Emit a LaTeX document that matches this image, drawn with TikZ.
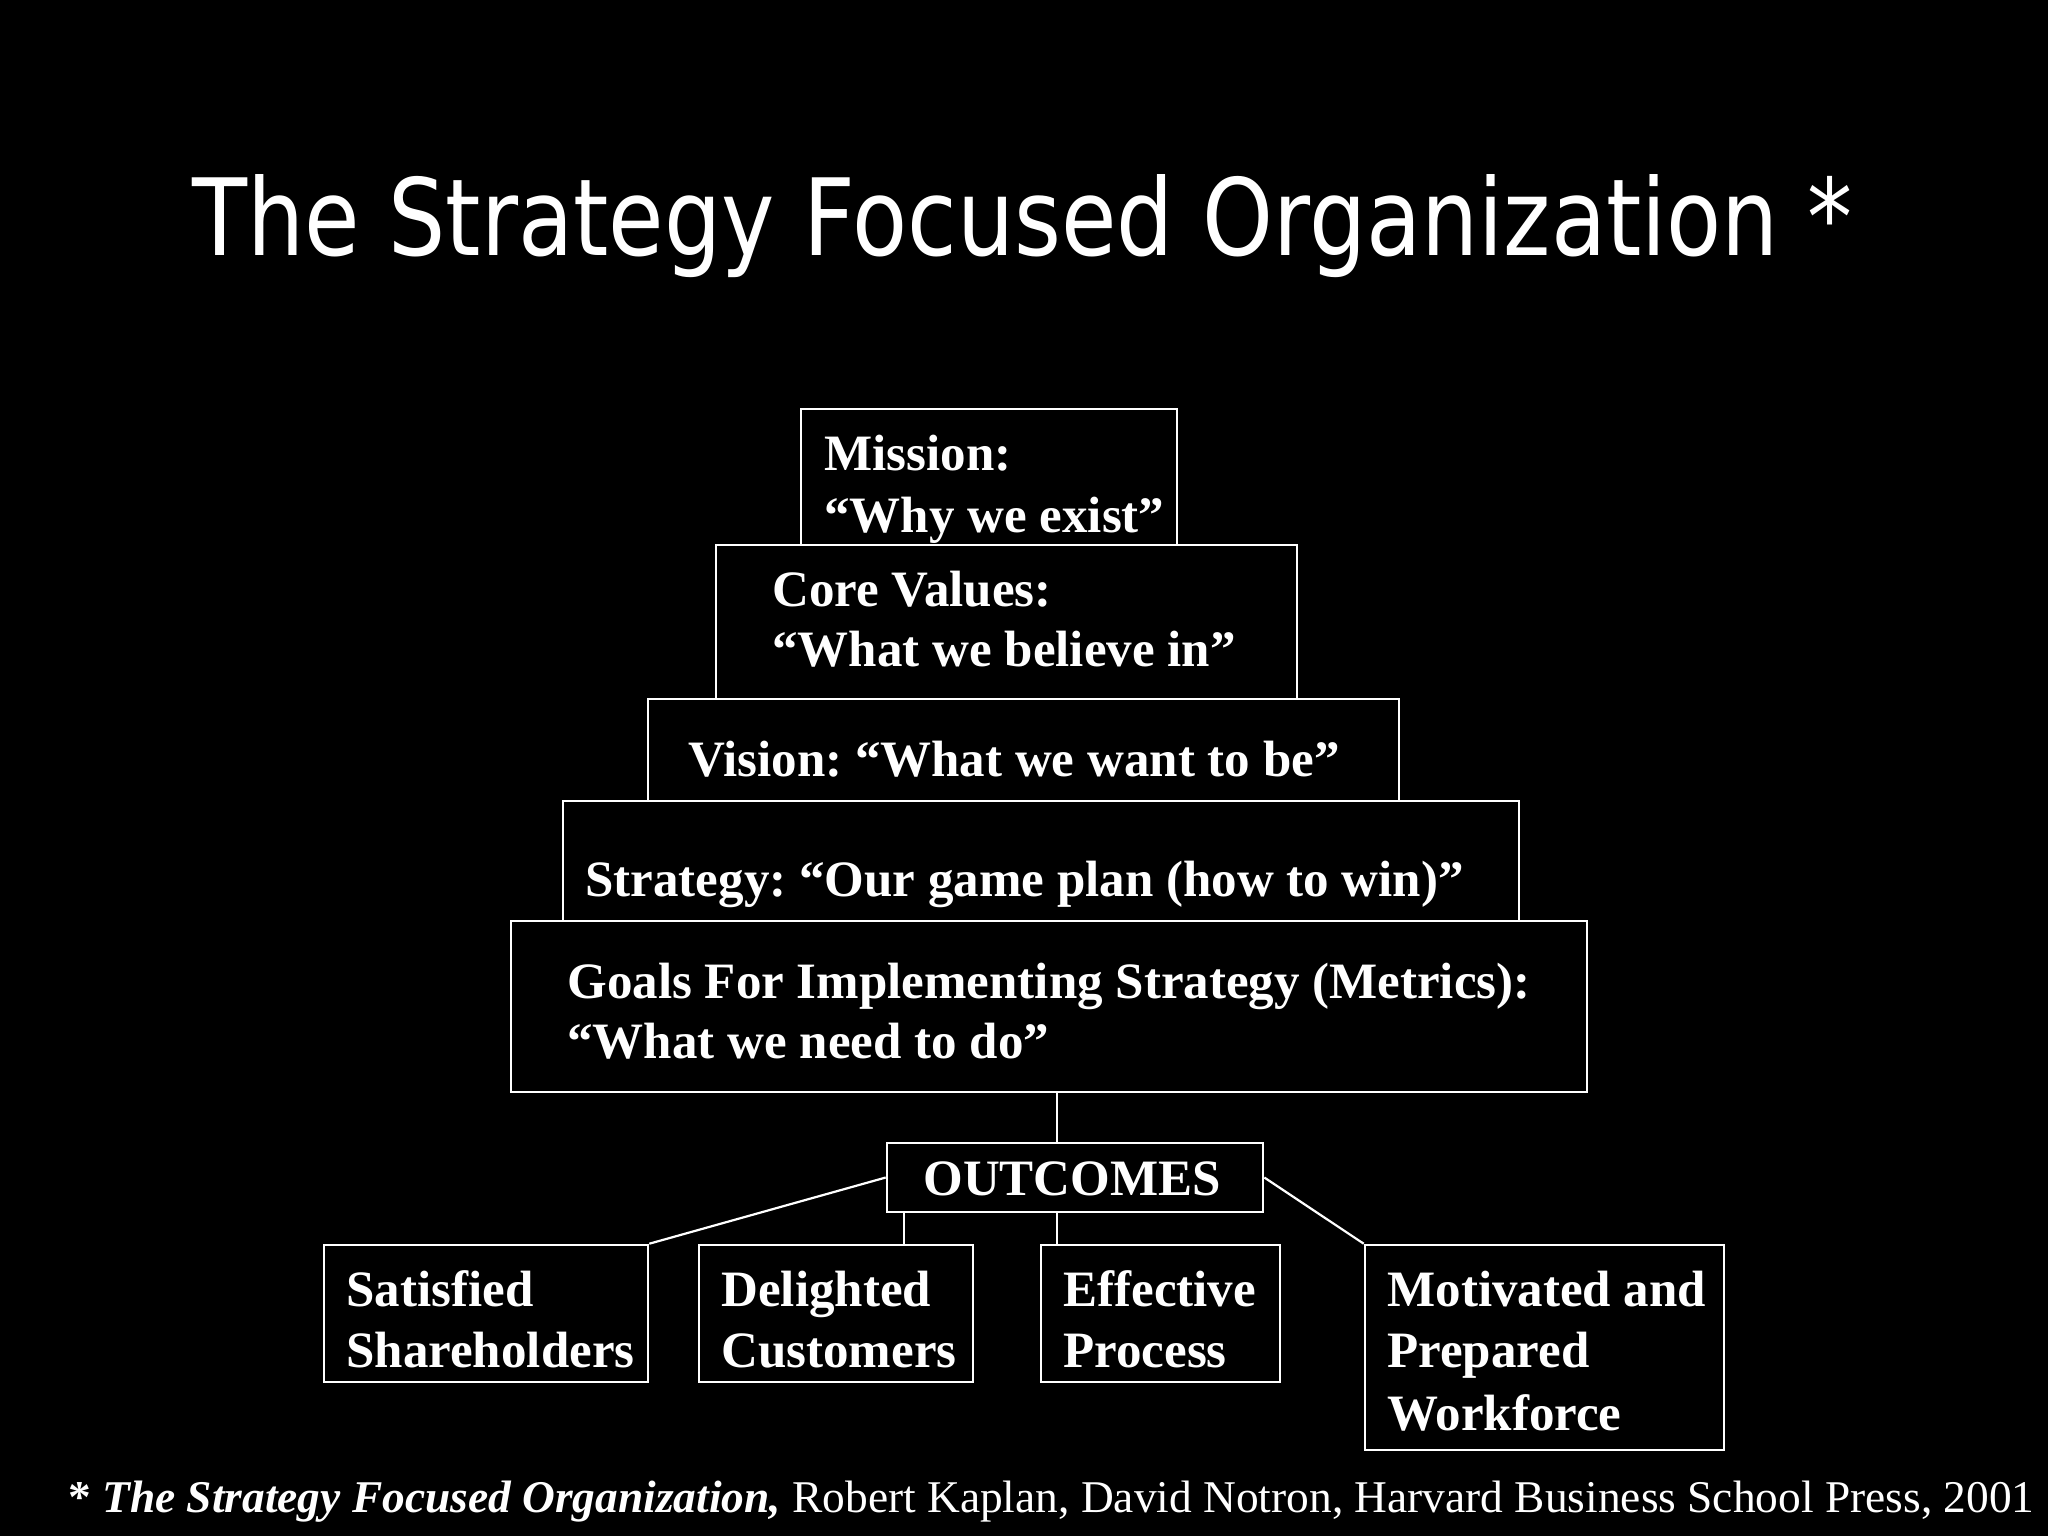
\documentclass[tikz,border=0pt]{standalone}
\usepackage{fontspec}
\setmainfont{Liberation Serif}
\newfontfamily\titlefont{DejaVu Sans}
\usetikzlibrary{fit}
\frenchspacing
\begin{document}
\begin{tikzpicture}[x=0.5pt,y=-0.5pt,
  box/.style={draw=white,line width=1.3pt,inner sep=0pt},
  lbl/.style={text=white,inner sep=0pt,anchor=base west,font=\bfseries\fontsize{25.5}{30}\selectfont},
  wire/.style={draw=white,line width=1.1pt}]
\fill[black] (0,0) rectangle (2048,1536);
\useasboundingbox (0,0) rectangle (2048,1536);
% title
\node[text=white,inner sep=0pt,anchor=base west] (title) at (192,255)
  {\resizebox{830pt}{40.5pt}{\titlefont The Strategy Focused Organization *}};
% pyramid boxes
\node[box,fit={(801,409) (1177,545)}] (mission) {};
\node[box,fit={(716,545) (1297,699)}] (core) {};
\node[box,fit={(648,699) (1399,801)}] (vision) {};
\node[box,fit={(563,801) (1519,921)}] (strat) {};
\node[box,fit={(511,921) (1587,1092)}] (goals) {};
% pyramid texts
\node[lbl] (t1) at (824,470) {Mission:};
\node[lbl] (t2) at (824,532) {“Why we exist”};
\node[lbl] (t3) at (772,606) {Core Values:};
\node[lbl] (t4) at (772,666) {“What we believe in”};
\node[lbl] (t5) at (688,776) {Vision: “What we want to be”};
\node[lbl] (t6) at (585,896) {Strategy: “Our game plan (how to win)”};
\node[lbl] (t7) at (567,998) {Goals For Implementing Strategy (Metrics):};
\node[lbl] (t8) at (567,1058) {“What we need to do”};
% outcomes
\node[box,fit={(887,1143) (1263,1212)}] (outc) {};
\node[lbl] (t9) at (923,1195) {OUTCOMES};
\node[box,fit={(324,1245) (648,1382)}] (sat) {};
\node[box,fit={(699,1245) (973,1382)}] (del) {};
\node[box,fit={(1041,1245) (1280,1382)}] (eff) {};
\node[box,fit={(1365,1245) (1724,1450)}] (mot) {};
\node[lbl] at (346,1306) {Satisfied};
\node[lbl] at (346,1367) {Shareholders};
\node[lbl] at (721,1306) {Delighted};
\node[lbl] at (721,1367) {Customers};
\node[lbl] at (1063,1306) {Effective};
\node[lbl] at (1063,1367) {Process};
\node[lbl] at (1387,1306) {Motivated and};
\node[lbl] at (1387,1367) {Prepared};
\node[lbl] at (1387,1430) {Workforce};
% connectors
\coordinate (cx) at (1057,1100);
\coordinate (dx) at (904,1230);
\draw[wire] (cx |- goals.south) -- (cx |- outc.north);
\draw[wire] (sat.north east) -- (outc.west);
\draw[wire] (dx |- outc.south) -- (dx |- del.north);
\draw[wire] (cx |- outc.south) -- (cx |- eff.north);
\draw[wire] (outc.east) -- (mot.north west);
% footer
\node[text=white,inner sep=0pt,anchor=base west] (foot) at (68,1512)
  {\resizebox{983pt}{!}{\fontsize{22}{26}\selectfont\textbf{* \textit{The Strategy Focused Organization,}} Robert Kaplan, David Notron, Harvard Business School Press, 2001}};
\end{tikzpicture}
\end{document}
